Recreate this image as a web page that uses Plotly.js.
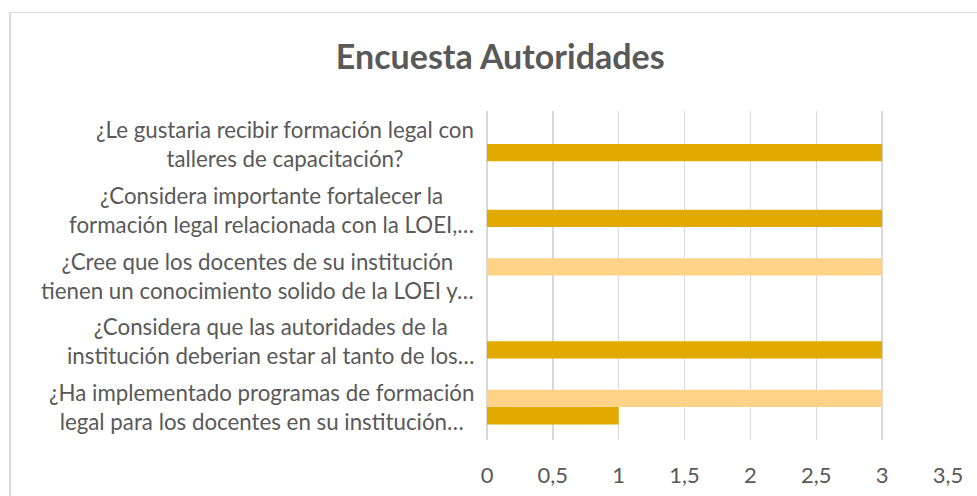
<!DOCTYPE html>
<html>
<head>
<meta charset="utf-8">
<script src="https://cdn.plot.ly/plotly-3.0.1.min.js"></script>
<style>
html,body{margin:0;padding:0;background:#fff;}
#wrap{position:relative;width:977px;height:496px;overflow:hidden;}
#chart{position:absolute;left:0;top:0;width:977px;height:496px;}
#frame{position:absolute;left:9px;top:12px;width:980px;height:500px;border-top:1px solid #d9d9d9;border-left:2px solid #d9d9d9;pointer-events:none;}
</style>
</head>
<body>
<div id="wrap"><div id="chart"></div><div id="frame"></div></div>
<script>
const categories = [
  "¿Ha implementado programas de formación<br>legal para los docentes en su institución…",
  "¿Considera que las autoridades de la<br>institución deberian estar al tanto de los…",
  "¿Cree que los docentes de su institución<br>tienen un conocimiento solido de la LOEI y…",
  "¿Considera importante fortalecer la<br>formación legal relacionada con la LOEI,…",
  "¿Le gustaria recibir formación legal con<br>talleres de capacitación?"
];
const serie1 = [1, 3, 0, 3, 3];
const serie2 = [3, 0, 3, 0, 0];
const xTicks = [0, 0.5, 1, 1.5, 2, 2.5, 3, 3.5];

const font = "Lato, 'Open Sans', sans-serif";
const txt = "#595959";

const data = [
  {type:'bar', orientation:'h', name:'Serie1', y:categories, x:serie1,
   marker:{color:'#E2AA00'}, hoverinfo:'x+y'},
  {type:'bar', orientation:'h', name:'Serie2', y:categories, x:serie2,
   marker:{color:'#FFD387'}, hoverinfo:'x+y'}
];

const annotations = categories.map(c => ({
  xref:'paper', yref:'y', x:0, y:c, xanchor:'right', yanchor:'middle',
  xshift:-11, text:c, showarrow:false, align:'center',
  font:{family:font, size:22.3, color:txt}
}));

const layout = {
  width:977, height:496,
  margin:{l:487, r:29, t:111, b:56, pad:0},
  paper_bgcolor:'rgba(0,0,0,0)', plot_bgcolor:'rgba(0,0,0,0)',
  separators:',.',
  showlegend:false,
  barmode:'group', bargap:0.474, bargroupgap:0,
  title:{text:'<b>Encuesta Autoridades</b>', x:0.512, xanchor:'center',
         yref:'container', y:1-57/496, yanchor:'middle',
         font:{family:font, size:34, color:txt}},
  xaxis:{range:[0,3.5], tickvals:xTicks, showgrid:true, gridcolor:'#d9d9d9', gridwidth:1.5,
         zeroline:true, zerolinecolor:'#d9d9d9', zerolinewidth:1.5, showline:false,
         ticks:'', ticklabelstandoff:20, fixedrange:true,
         tickfont:{family:font, size:22, color:txt}},
  yaxis:{type:'category', categoryarray:categories, showticklabels:false, showgrid:false,
         zeroline:false, showline:false, ticks:'', fixedrange:true},
  annotations:annotations
};

Plotly.newPlot('chart', data, layout, {displayModeBar:false, staticPlot:true});
</script>
</body>
</html>
